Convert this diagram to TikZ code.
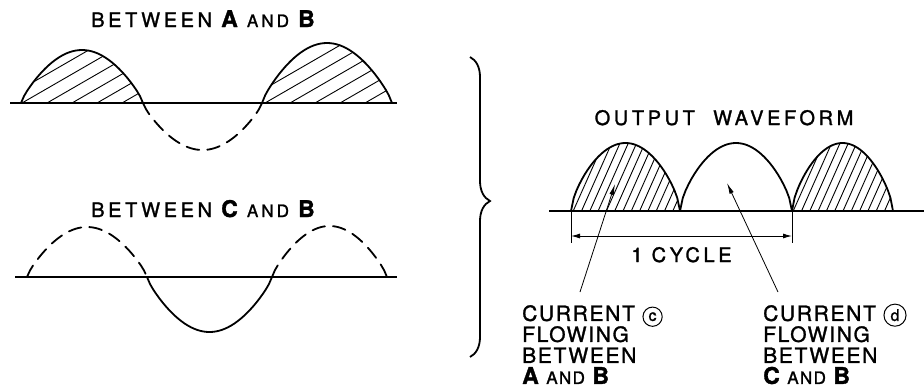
\documentclass[tikz,border=0pt]{standalone}
\usepackage{fontspec}
\setmainfont{TeX Gyre Heros}[LetterSpace=8, FakeBold=1.4]
\usetikzlibrary{arrows.meta,decorations.pathreplacing}

\def\hwexp{0.8}
% half a sine period from x=#1 to x=#2 on the axis y=#3, height #4 (up is +)
\newcommand{\halfwave}[4]{plot[domain=0:180,samples=41,variable=\q]
  ({#1+\q*((#2-#1)/180)},{#3-(#4)*(sin(\q))^\hwexp})}
\newcommand{\ltr}[1]{{\fontsize{23}{21}\selectfont\bfseries #1}}
\newcommand{\andw}{{\fontsize{17}{21}\selectfont AND}}
\newcommand{\circled}[1]{\smash{\tikz[baseline=(cl.base)]\node[draw, circle, line width=1pt,
  inner sep=2.6pt, font=\fontsize{16}{16}\selectfont] (cl) {#1};}}

\begin{document}
\begin{tikzpicture}[x=1pt,y=-1pt,
  wave/.style={line width=1.8pt, line cap=round},
  dwave/.style={wave, dash pattern=on 13pt off 8pt},
  axis/.style={line width=1.6pt},
  hatch/.style={line width=0.9pt},
  ttl/.style={font=\fontsize{20}{22}\selectfont\addfontfeature{LetterSpace=18}, inner sep=0pt, anchor=base},
  lbl/.style={font=\fontsize{21}{21}\selectfont, align=left, inner sep=0pt, anchor=north west},
  ptr/.style={-{Latex[length=11pt,width=4.5pt]}, line width=0.8pt},
  dim/.style={{Latex[length=9pt,width=5pt]}-{Latex[length=9pt,width=5pt]}, line width=1pt},
  bracket/.style={decorate, decoration={brace,amplitude=20pt,aspect=0.48}, line width=1.8pt}
]
\useasboundingbox (0,0) rectangle (924,389);

% between A and B
\node[ttl] (tab) at (203,27) {BETWEEN \ltr{A} \andw{} \ltr{B}};
\draw[axis] (10,103) -- (397,103);
\begin{scope}
  \clip \halfwave{21}{143}{103}{53} -- cycle;
  \foreach \hx in {-3,22,...,147} \draw[hatch] (\hx,103) -- ++(-30:200);
\end{scope}
\begin{scope}
  \clip \halfwave{262}{392}{103}{60} -- cycle;
  \foreach \hx in {240,265,...,390} \draw[hatch] (\hx,103) -- ++(-30:200);
\end{scope}
\draw[wave] \halfwave{21}{143}{103}{53};
\draw[dwave] \halfwave{143}{262}{103}{-47};
\draw[wave] \halfwave{262}{392}{103}{60};

% between C and B
\node[ttl] (tcb) at (203,217) {BETWEEN \ltr{C} \andw{} \ltr{B}};
\draw[axis] (15,277) -- (397,277);
\draw[dwave] \halfwave{27}{147}{277}{50};
\draw[wave] \halfwave{147}{272}{277}{-55};
\draw[dwave] \halfwave{272}{387}{277}{51};

% brace
\coordinate (btop) at (470,57);
\coordinate (bbot) at (470,357);
\draw[bracket] (btop) -- (bbot);

% output waveform
\def\hwexp{0.65}
\node[ttl] (tout) at (724,125) {OUTPUT \ WAVEFORM};
\begin{scope}
  \clip \halfwave{571}{680}{211}{68} -- cycle;
  \foreach \hx in {540,548.3,...,690} \draw[hatch] (\hx,211) -- ++(-66:90);
\end{scope}
\begin{scope}
  \clip \halfwave{792}{893}{211}{68} -- cycle;
  \foreach \hx in {760,768.3,...,900} \draw[hatch] (\hx,211) -- ++(-66:90);
\end{scope}
\draw[wave] \halfwave{571}{680}{211}{68};
\draw[wave] \halfwave{680}{792}{211}{68};
\draw[wave] \halfwave{792}{893}{211}{68};
\draw[axis] (549,211) -- (924,211);

% one cycle
\coordinate (ca) at (571,211);
\coordinate (cb) at (792,211);
\draw[line width=1pt] (ca) -- ++(0,32);
\draw[line width=1pt] (cb) -- ++(0,32);
\draw[dim] ([yshift=-25pt]ca) -- node[ttl, anchor=base, yshift=-26pt] (cyc) {1 CYCLE} ([yshift=-25pt]cb);

% labels
\node[lbl] (curc) at (522,305) {CURRENT \circled{c}\\FLOWING\\BETWEEN\\\ltr{A} \andw{} \ltr{B}};
\node[lbl] (curd) at (763,305) {CURRENT \circled{d}\\FLOWING\\BETWEEN\\\ltr{C} \andw{} \ltr{B}};
\coordinate (cfoot) at (580,292);
\coordinate (ctip) at (615,184);
\coordinate (dfoot) at (778,292);
\coordinate (dtip) at (727,183);
\draw[ptr] (cfoot) -- (ctip);
\draw[ptr] (dfoot) -- (dtip);
\end{tikzpicture}
\end{document}
